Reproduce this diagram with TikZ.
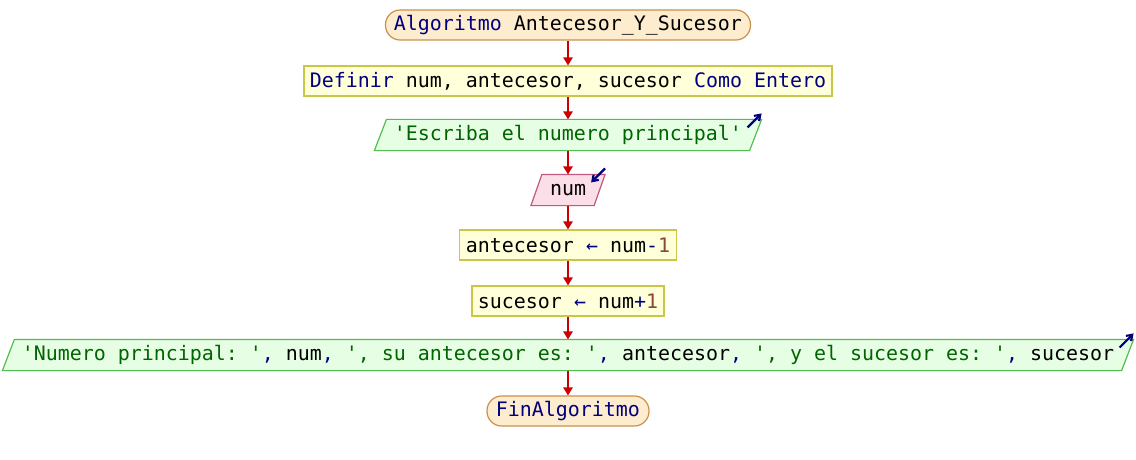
\documentclass[tikz,border=0pt]{standalone}
\usepackage{fontspec}
\setmonofont{DejaVu Sans Mono}
\usetikzlibrary{arrows.meta,calc,backgrounds}

\definecolor{kw}{RGB}{0,0,128}
\definecolor{str}{RGB}{0,100,0}
\definecolor{numc}{RGB}{140,70,50}
\definecolor{flowred}{RGB}{204,0,0}
\definecolor{termfill}{RGB}{253,236,206}
\definecolor{termdraw}{RGB}{200,145,75}
\definecolor{procfill}{RGB}{255,255,218}
\definecolor{procdraw}{RGB}{200,200,70}
\definecolor{outfill}{RGB}{230,255,228}
\definecolor{outdraw}{RGB}{80,190,80}
\definecolor{infill}{RGB}{252,222,232}
\definecolor{indraw}{RGB}{190,90,130}

\newcommand\kwd[1]{\textcolor{kw}{#1}}
\newcommand\strg[1]{\textcolor{str}{#1}}
\newcommand\nmb[1]{\textcolor{numc}{#1}}

\tikzset{
  base/.style={font=\ttfamily\fontsize{14.95pt}{18pt}\selectfont, inner sep=0pt,
    minimum height=30*0.75pt, line width=0.9pt},
  term/.style={base, draw=termdraw, fill=termfill, rounded corners=11pt},
  proc/.style={base, draw=procdraw, fill=procfill},
  iobox/.style={base},
  outpath/.style={draw=outdraw, fill=outfill, line width=0.9pt},
  inpath/.style={draw=indraw, fill=infill, line width=0.9pt},
  flow/.style={draw=flowred, line width=1.3pt, -{Triangle[width=7pt,length=6pt]}},
  icon/.style={draw=kw, line width=1.6pt, -{Straight Barb[width=5.5pt,length=4pt]}}
}

\begin{document}
\begin{tikzpicture}[x=0.75pt,y=-0.75pt]
\useasboundingbox (0,0) rectangle (1136,460);

\node[term, minimum width=365*0.75pt] (start) at (568,25)
  {\kwd{Algoritmo} Antecesor\_Y\_Sucesor};
\node[proc, minimum width=528*0.75pt] (def) at (568,81)
  {\kwd{Definir} num, antecesor, sucesor \kwd{Como Entero}};
\node[iobox, minimum width=386*0.75pt] (out1) at (568,135)
  {\strg{'Escriba el numero principal'}};
\node[iobox, minimum width=73*0.75pt] (inp) at (568,190) {num};
\node[proc, minimum width=217*0.75pt] (ant) at (568,245)
  {antecesor \kwd{←} num\kwd{-}\nmb{1}};
\node[proc, minimum width=192*0.75pt] (suc) at (568,301)
  {sucesor \kwd{←} num\kwd{+}\nmb{1}};
\node[iobox, minimum width=1130*0.75pt] (out2) at (568,355)
  {\strg{'Numero principal: '}\kwd{,} num\kwd{,} \strg{', su antecesor es: '}\kwd{,} antecesor\kwd{,} \strg{', y el sucesor es: '}\kwd{,} sucesor};
\node[term, minimum width=162*0.75pt] (fin) at (568,411) {\kwd{FinAlgoritmo}};

% parallelogram outlines behind the input/output texts
\begin{pgfonlayer}{background}
  \path[outpath] ($(out1.north west)+(12,0)$) -- (out1.north east)
    -- ($(out1.south east)+(-12,0)$) -- (out1.south west) -- cycle;
  \path[inpath] ($(inp.north west)+(11,0)$) -- (inp.north east)
    -- ($(inp.south east)+(-11,0)$) -- (inp.south west) -- cycle;
  \path[outpath] ($(out2.north west)+(12,0)$) -- (out2.north east)
    -- ($(out2.south east)+(-12,0)$) -- (out2.south west) -- cycle;
\end{pgfonlayer}

% write / read markers
\draw[icon] ($(out1.north east)+(-14,8)$) -- ($(out1.north east)+(0,-6)$);
\draw[icon] ($(inp.north east)+(0,-6)$) -- ($(inp.north east)+(-14,8)$);
\draw[icon] ($(out2.north east)+(-14,8)$) -- ($(out2.north east)+(0,-6)$);

% flow
\draw[flow] (start) -- (def);
\draw[flow] (def) -- (out1);
\draw[flow] (out1) -- (inp);
\draw[flow] (inp) -- (ant);
\draw[flow] (ant) -- (suc);
\draw[flow] (suc) -- (out2);
\draw[flow] (out2) -- (fin);
\end{tikzpicture}
\end{document}
